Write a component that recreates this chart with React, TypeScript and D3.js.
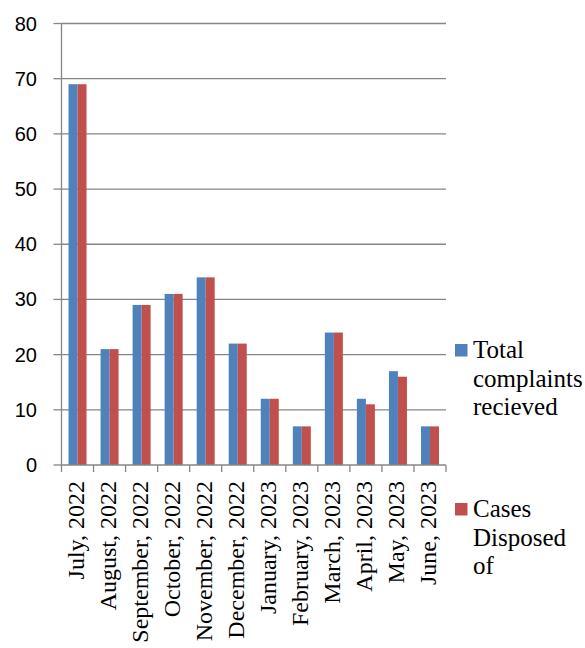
import React from "react";
import * as d3 from "d3";

const categories = [
  "July, 2022", "August, 2022", "September, 2022", "October, 2022",
  "November, 2022", "December, 2022", "January, 2023", "February, 2023",
  "March, 2023", "April, 2023", "May, 2023", "June, 2023",
];
const totalReceived = [69, 21, 29, 31, 34, 22, 12, 7, 24, 12, 17, 7];
const casesDisposed = [69, 21, 29, 31, 34, 22, 12, 7, 24, 11, 16, 7];
const yTicks = [0, 10, 20, 30, 40, 50, 60, 70, 80];
const seriesNames = [["Total", "complaints", "recieved"], ["Cases", "Disposed", "of"]];
const colors = ["#4F81BD", "#C0504D"];

export default function App() {
  const W = 585, H = 648;
  const left = 61.5, right = 446, top = 23.5, bottom = 465;
  const x = d3.scaleBand<string>().domain(categories).range([left, right]).paddingInner(0).paddingOuter(0);
  const y = d3.scaleLinear().domain([0, 80]).range([bottom, top]);
  const bw = 9;
  const grid = "#868686";
  const serif = { fontFamily: "Liberation Serif, serif" };
  const sans = { fontFamily: "Liberation Sans, sans-serif" };
  const series = [totalReceived, casesDisposed];
  const legendY = [350, 509];

  return (
    <svg width={W} height={H} style={{ position: "absolute", left: 0, top: 0, background: "#fff" }}>
      {yTicks.map((t) => (
        <g key={t}>
          {t > 0 && <line x1={left} x2={right} y1={y(t)} y2={y(t)} stroke={grid} strokeWidth={1.3} />}
          <line x1={left - 8} x2={left} y1={y(t)} y2={y(t)} stroke={grid} strokeWidth={1.3} />
          <text x={37} y={y(t)} textAnchor="end" dominantBaseline="central" style={sans} fontSize={20} fill="#000">
            {t}
          </text>
        </g>
      ))}
      {categories.map((c, i) => {
        const cx = x(c)! + x.bandwidth() / 2;
        return (
          <g key={c}>
            {series.map((s, k) => (
              <rect key={k} x={cx - bw + k * bw} y={y(s[i])} width={bw} height={y(0) - y(s[i])} fill={colors[k]} />
            ))}
          </g>
        );
      })}
      <line x1={left} x2={left} y1={top} y2={bottom} stroke={grid} strokeWidth={1.3} />
      <line x1={left} x2={right} y1={bottom} y2={bottom} stroke={grid} strokeWidth={1.3} />
      {d3.range(categories.length + 1).map((i) => {
        const tx = left + i * x.step();
        return <line key={i} x1={tx} x2={tx} y1={bottom} y2={bottom + 7} stroke={grid} strokeWidth={1.3} />;
      })}
      {categories.map((c) => {
        const cx = x(c)! + x.bandwidth() / 2;
        return (
          <text key={c} transform={`translate(${cx + 6},${481}) rotate(-90)`} textAnchor="end" style={serif} fontSize={24} fill="#000">
            {c}
          </text>
        );
      })}
      {seriesNames.map((lines, k) => (
        <g key={k}>
          <rect x={455} y={legendY[k] - 6} width={12.5} height={12.5} fill={colors[k]} />
          {lines.map((ln, j) => (
            <text key={j} x={473} y={legendY[k] + 8 + j * 28.5} style={serif} fontSize={25} fill="#000">
              {ln}
            </text>
          ))}
        </g>
      ))}
    </svg>
  );
}
